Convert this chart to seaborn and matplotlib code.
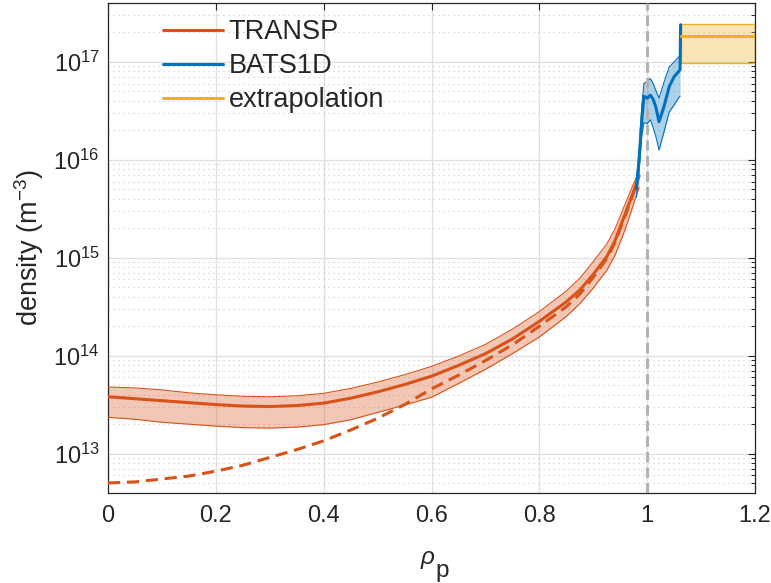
import numpy as np
import pandas as pd
import matplotlib
matplotlib.use("Agg")
import matplotlib.pyplot as plt
import seaborn as sns
from matplotlib.ticker import LogLocator, NullFormatter

# ---------------- data (exponents of density in m^-3) ----------------
transp_rho = [0.00, 0.05, 0.10, 0.15, 0.20, 0.25, 0.30, 0.35, 0.40, 0.45, 0.50, 0.55, 0.60,
              0.65, 0.70, 0.75, 0.80, 0.85, 0.875, 0.90, 0.925, 0.94, 0.96, 0.975, 0.985]
transp_exp = [13.58, 13.56, 13.54, 13.52, 13.50, 13.485, 13.48, 13.49, 13.515, 13.565, 13.63, 13.705, 13.79,
              13.90, 14.02, 14.17, 14.35, 14.55, 14.67, 14.83, 15.01, 15.17, 15.46, 15.68, 15.84]
transp_hi_exp = [13.68, 13.67, 13.65, 13.62, 13.60, 13.585, 13.58, 13.59, 13.615, 13.665, 13.73, 13.805, 13.89,
                 13.995, 14.115, 14.27, 14.45, 14.66, 14.79, 14.96, 15.14, 15.29, 15.56, 15.76, 15.88]
transp_lo_exp = [13.37, 13.35, 13.32, 13.30, 13.28, 13.265, 13.26, 13.27, 13.295, 13.345, 13.42, 13.495, 13.575,
                 13.715, 13.86, 14.02, 14.19, 14.40, 14.53, 14.69, 14.87, 15.02, 15.30, 15.55, 15.72]
transp_dash_exp = [12.70, 12.71, 12.74, 12.77, 12.82, 12.88, 12.96, 13.04, 13.13, 13.24, 13.36, 13.50, 13.66,
                   13.80, 13.95, 14.11, 14.30, 14.50, 14.63, 14.80, 14.99, 15.15, 15.44, 15.67, 15.84]

bats_rho = [0.980, 0.985, 0.990, 0.994, 1.000, 1.006, 1.011, 1.016, 1.022, 1.031, 1.041, 1.050, 1.058, 1.061, 1.062]
bats_exp = [15.70, 16.00, 16.40, 16.65, 16.63, 16.66, 16.62, 16.54, 16.39, 16.54, 16.75, 16.85, 16.90, 16.92, 17.38]
bats_hi_exp = [15.78, 16.10, 16.55, 16.78, 16.80, 16.83, 16.78, 16.71, 16.63, 16.79, 16.95, 17.00, 17.05, 17.06, 17.38]
bats_lo_exp = [15.62, 15.90, 16.25, 16.38, 16.37, 16.41, 16.33, 16.24, 16.10, 16.28, 16.49, 16.56, 16.63, 16.65, 17.38]

ext_rho = [1.062, 1.2]
ext_mid = [1.82e17, 1.82e17]
ext_lo = [9.8e16, 9.8e16]
ext_hi = [2.45e17, 2.45e17]

labels = ["TRANSP", "BATS1D", "extrapolation"]
xticks = [0, 0.2, 0.4, 0.6, 0.8, 1, 1.2]
xtick_labels = ["0", "0.2", "0.4", "0.6", "0.8", "1", "1.2"]

C_T = "#D95319"
C_B = "#0072BD"
C_E = "#EDB120"
TXT = "#262626"

# ---------------- style ----------------
sns.set_style("white")
plt.rcParams["font.family"] = ["Liberation Sans", "DejaVu Sans"]
plt.rcParams["mathtext.fontset"] = "custom"
plt.rcParams["mathtext.rm"] = "Liberation Sans"
plt.rcParams["mathtext.it"] = "Liberation Sans:italic"
plt.rcParams["mathtext.bf"] = "Liberation Sans:bold"

fig = plt.figure(figsize=(7.71, 5.83), dpi=100)
ax = fig.add_axes([108 / 771, (583 - 492.5) / 583, (755 - 108) / 771, (492.5 - 3) / 583])

t = pd.DataFrame({"rho": transp_rho,
                  "n": 10.0 ** np.array(transp_exp),
                  "hi": 10.0 ** np.array(transp_hi_exp),
                  "lo": 10.0 ** np.array(transp_lo_exp),
                  "dash": 10.0 ** np.array(transp_dash_exp)})
b = pd.DataFrame({"rho": bats_rho,
                  "n": 10.0 ** np.array(bats_exp),
                  "hi": 10.0 ** np.array(bats_hi_exp),
                  "lo": 10.0 ** np.array(bats_lo_exp)})
e = pd.DataFrame({"rho": ext_rho, "n": ext_mid, "lo": ext_lo, "hi": ext_hi})

ax.set_yscale("log")

# uncertainty bands
ax.fill_between(t["rho"], t["lo"], t["hi"], color=C_T, alpha=0.32, lw=0, zorder=2)
ax.plot(t["rho"], t["lo"], color=C_T, lw=0.8, zorder=3)
ax.plot(t["rho"], t["hi"], color=C_T, lw=0.8, zorder=3)
ax.fill_between(b["rho"][:-1], b["lo"][:-1], b["hi"][:-1], color=C_B, alpha=0.32, lw=0, zorder=2)
ax.plot(b["rho"][:-1], b["lo"][:-1], color=C_B, lw=0.8, zorder=3)
ax.plot(b["rho"][:-1], b["hi"][:-1], color=C_B, lw=0.8, zorder=3)
ax.fill_between(e["rho"], e["lo"], e["hi"], color=C_E, alpha=0.32, lw=0, zorder=2)
ax.plot([ext_rho[0], ext_rho[1], ext_rho[1], ext_rho[0], ext_rho[0]],
        [ext_lo[0], ext_lo[1], ext_hi[1], ext_hi[0], ext_lo[0]], color=C_E, lw=1.0, zorder=3)

# separatrix
ax.axvline(1.0, color="#b3b3b3", lw=2.2, ls=(0, (3.4, 1.7)), zorder=3.5)

# main lines
sns.lineplot(data=t, x="rho", y="n", color=C_T, lw=2.2, ax=ax, estimator=None, sort=False,
             label=labels[0], zorder=4)
sns.lineplot(data=t, x="rho", y="dash", color=C_T, lw=2.2, ax=ax, estimator=None, sort=False,
             zorder=4, linestyle=(0, (4, 2.2)))
sns.lineplot(data=b, x="rho", y="n", color=C_B, lw=2.2, ax=ax, estimator=None, sort=False,
             label=labels[1], zorder=4)
sns.lineplot(data=e, x="rho", y="n", color=C_E, lw=2.2, ax=ax, estimator=None, sort=False,
             label=labels[2], zorder=4)

# axes
ax.set_xlim(0, 1.2)
ax.set_ylim(4e12, 4e17)
ax.set_xticks(xticks)
ax.set_xticklabels(xtick_labels)
ax.yaxis.set_major_locator(LogLocator(base=10, numticks=20))
ax.yaxis.set_minor_locator(LogLocator(base=10, subs=np.arange(2, 10), numticks=100))
ax.yaxis.set_minor_formatter(NullFormatter())

ax.grid(True, which="major", axis="both", color="#dfdfdf", lw=0.9, ls="-", zorder=0)
ax.grid(True, which="minor", axis="y", color="#c8c8c8", lw=0.8, ls=(0, (1, 3.5)), zorder=0)
ax.set_axisbelow(True)

ax.tick_params(axis="both", which="both", direction="in", top=True, right=True,
               labelsize=17, colors=TXT, labelcolor=TXT)
ax.tick_params(axis="both", which="major", length=5, width=0.8)
ax.tick_params(axis="y", which="minor", length=3, width=0.7)
ax.tick_params(axis="x", which="major", pad=9)
ax.tick_params(axis="y", which="major", pad=6)
for s in ax.spines.values():
    s.set_color(TXT)
    s.set_linewidth(0.9)

# x label: rho with a full-size "p" subscript
ax.set_xlabel(r"$\rho$", fontsize=17.5, color=TXT)
ax.xaxis.set_label_coords((427.5 - 108) / 647, (492.5 - 549) / 489.5)
ax.annotate("p", xy=(1.0, 0.0), xycoords=ax.xaxis.label, xytext=(0.3, -4.2),
            textcoords="offset points", ha="left", va="baseline", fontsize=17.5, color=TXT)

ax.set_ylabel(r"density (m$^{\mathdefault{-3}}$)", fontsize=19.5, color=TXT, labelpad=5)

leg = ax.legend(loc="upper left", bbox_to_anchor=(0.06, 1.0), frameon=False, fontsize=19.5,
                handlelength=2.2, handletextpad=0.22, labelspacing=0.3, borderaxespad=0.2)
for line in leg.get_lines():
    line.set_linewidth(2.2)

fig.savefig("out.png", dpi=100)
